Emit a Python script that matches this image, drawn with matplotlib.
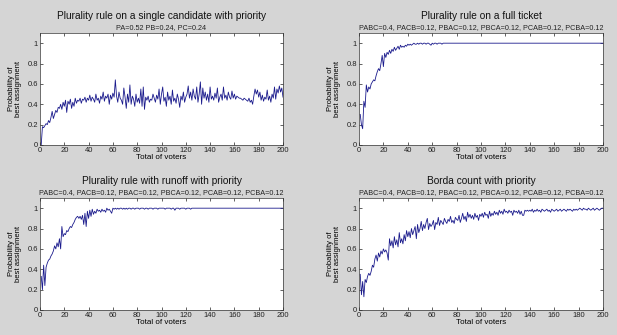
import matplotlib
matplotlib.use("Agg")
import matplotlib.pyplot as plt

plt.rcParams['font.family'] = ['Liberation Sans', 'DejaVu Sans']

voters = list(range(1, 201))

plurality_single = [
    0.00, 0.18, 0.17, 0.19, 0.21, 0.20, 0.24, 0.22, 0.27, 0.33,
    0.26, 0.30, 0.34, 0.32, 0.37, 0.36, 0.40, 0.35, 0.42, 0.38,
    0.44, 0.32, 0.43, 0.40, 0.45, 0.36, 0.42, 0.38, 0.46, 0.41,
    0.44, 0.43, 0.46, 0.41, 0.45, 0.44, 0.47, 0.42, 0.46, 0.44,
    0.49, 0.43, 0.47, 0.45, 0.42, 0.50, 0.44, 0.46, 0.41, 0.48,
    0.45, 0.52, 0.43, 0.48, 0.46, 0.50, 0.40, 0.49, 0.45, 0.51,
    0.47, 0.64, 0.48, 0.42, 0.52, 0.46, 0.44, 0.40, 0.56, 0.47,
    0.36, 0.50, 0.42, 0.59, 0.40, 0.48, 0.45, 0.38, 0.50, 0.42,
    0.46, 0.41, 0.55, 0.38, 0.57, 0.35, 0.47, 0.44, 0.48, 0.42,
    0.45, 0.44, 0.50, 0.46, 0.42, 0.49, 0.45, 0.55, 0.40, 0.50,
    0.57, 0.43, 0.47, 0.38, 0.52, 0.44, 0.48, 0.40, 0.54, 0.43,
    0.46, 0.41, 0.50, 0.45, 0.37, 0.48, 0.44, 0.52, 0.42, 0.47,
    0.50, 0.58, 0.46, 0.52, 0.44, 0.55, 0.48, 0.45, 0.57, 0.42,
    0.50, 0.62, 0.40, 0.56, 0.46, 0.52, 0.44, 0.50, 0.42, 0.57,
    0.45, 0.48, 0.44, 0.51, 0.46, 0.56, 0.42, 0.47, 0.50, 0.44,
    0.57, 0.46, 0.49, 0.44, 0.52, 0.47, 0.45, 0.53, 0.46, 0.50,
    0.45, 0.48, 0.47, 0.46, 0.46, 0.45, 0.44, 0.46, 0.45, 0.44,
    0.43, 0.46, 0.42, 0.44, 0.40, 0.48, 0.55, 0.50, 0.54, 0.47,
    0.52, 0.44, 0.49, 0.43, 0.47, 0.45, 0.54, 0.44, 0.48, 0.42,
    0.50, 0.46, 0.57, 0.45, 0.55, 0.51, 0.58, 0.52, 0.56, 0.47,
]

plurality_full = [
    0.30, 0.20, 0.16, 0.43, 0.37, 0.59, 0.52, 0.57, 0.55, 0.60,
    0.62, 0.64, 0.63, 0.68, 0.72, 0.75, 0.73, 0.80, 0.88, 0.77,
    0.90, 0.86, 0.91, 0.89, 0.93, 0.90, 0.94, 0.92, 0.96, 0.93,
    0.95, 0.97, 0.94, 0.98, 0.96, 0.97, 0.96, 0.98, 0.97, 0.99,
    0.98, 0.99, 0.98, 0.99, 1.00, 0.99, 0.99, 1.00, 0.99, 1.00,
    1.00, 0.99, 1.00, 1.00, 0.99, 1.00, 1.00, 0.99, 0.98, 1.00,
    0.99, 1.00, 1.00, 0.99, 1.00, 1.00, 1.00, 0.99, 1.00, 1.00,
    1.00, 1.00, 1.00, 1.00, 1.00, 1.00, 1.00, 1.00, 1.00, 1.00,
    1.00, 1.00, 1.00, 1.00, 1.00, 1.00, 1.00, 1.00, 1.00, 1.00,
    1.00, 1.00, 1.00, 1.00, 1.00, 1.00, 1.00, 1.00, 1.00, 1.00,
    1.00, 1.00, 1.00, 1.00, 1.00, 1.00, 1.00, 1.00, 1.00, 1.00,
    1.00, 1.00, 1.00, 1.00, 1.00, 1.00, 1.00, 1.00, 1.00, 1.00,
    1.00, 1.00, 1.00, 1.00, 1.00, 1.00, 1.00, 1.00, 1.00, 1.00,
    1.00, 1.00, 1.00, 1.00, 1.00, 1.00, 1.00, 1.00, 1.00, 1.00,
    1.00, 1.00, 1.00, 1.00, 1.00, 1.00, 1.00, 1.00, 1.00, 1.00,
    1.00, 1.00, 1.00, 1.00, 1.00, 1.00, 1.00, 1.00, 1.00, 1.00,
    1.00, 1.00, 1.00, 1.00, 1.00, 1.00, 1.00, 1.00, 1.00, 1.00,
    1.00, 1.00, 1.00, 1.00, 1.00, 1.00, 1.00, 1.00, 1.00, 1.00,
    1.00, 1.00, 1.00, 1.00, 1.00, 1.00, 1.00, 1.00, 1.00, 1.00,
    1.00, 1.00, 1.00, 1.00, 1.00, 1.00, 1.00, 1.00, 1.00, 1.00,
]

plurality_runoff = [
    0.33, 0.20, 0.44, 0.24, 0.42, 0.46, 0.49, 0.50, 0.53, 0.55,
    0.58, 0.63, 0.60, 0.66, 0.62, 0.70, 0.60, 0.82, 0.72, 0.75,
    0.74, 0.78, 0.77, 0.80, 0.82, 0.81, 0.84, 0.86, 0.89, 0.91,
    0.92, 0.90, 0.92, 0.89, 0.93, 0.84, 0.95, 0.82, 0.97, 0.90,
    0.98, 0.92, 0.99, 0.94, 0.97, 0.95, 0.99, 0.97, 0.98, 0.96,
    0.99, 0.97, 0.98, 0.96, 1.00, 0.98, 0.99, 0.97, 0.95, 1.00,
    0.99, 1.00, 0.99, 1.00, 0.99, 1.00, 1.00, 0.99, 1.00, 0.99,
    1.00, 0.99, 1.00, 1.00, 0.99, 1.00, 1.00, 0.99, 1.00, 1.00,
    1.00, 0.99, 1.00, 1.00, 1.00, 0.99, 1.00, 1.00, 0.99, 1.00,
    1.00, 1.00, 0.99, 1.00, 1.00, 1.00, 0.99, 1.00, 1.00, 1.00,
    1.00, 1.00, 0.99, 1.00, 1.00, 1.00, 1.00, 0.99, 1.00, 1.00,
    0.98, 1.00, 1.00, 1.00, 0.99, 1.00, 1.00, 1.00, 1.00, 0.99,
    1.00, 1.00, 1.00, 0.99, 1.00, 1.00, 1.00, 1.00, 1.00, 1.00,
    1.00, 1.00, 1.00, 1.00, 1.00, 1.00, 1.00, 1.00, 1.00, 1.00,
    1.00, 1.00, 1.00, 1.00, 1.00, 1.00, 1.00, 1.00, 1.00, 1.00,
    1.00, 1.00, 1.00, 1.00, 1.00, 1.00, 1.00, 1.00, 1.00, 1.00,
    1.00, 1.00, 1.00, 1.00, 1.00, 1.00, 1.00, 1.00, 1.00, 1.00,
    1.00, 1.00, 1.00, 1.00, 1.00, 1.00, 1.00, 1.00, 1.00, 1.00,
    1.00, 1.00, 1.00, 1.00, 1.00, 1.00, 1.00, 1.00, 1.00, 1.00,
    1.00, 1.00, 1.00, 1.00, 1.00, 1.00, 1.00, 1.00, 1.00, 1.00,
]

borda_count = [
    0.35, 0.15, 0.28, 0.13, 0.30, 0.27, 0.33, 0.36, 0.34, 0.38,
    0.44, 0.42, 0.50, 0.54, 0.48, 0.56, 0.52, 0.58, 0.55, 0.60,
    0.57, 0.59, 0.56, 0.49, 0.70, 0.63, 0.68, 0.61, 0.72, 0.64,
    0.69, 0.62, 0.76, 0.66, 0.70, 0.65, 0.74, 0.68, 0.78, 0.72,
    0.77, 0.71, 0.80, 0.74, 0.78, 0.82, 0.70, 0.84, 0.76, 0.80,
    0.87, 0.78, 0.84, 0.80, 0.86, 0.90, 0.79, 0.85, 0.82, 0.84,
    0.88, 0.79, 0.86, 0.84, 0.91, 0.83, 0.88, 0.86, 0.84, 0.90,
    0.87, 0.85, 0.89, 0.87, 0.92, 0.86, 0.88, 0.85, 0.91, 0.89,
    0.88, 0.93, 0.86, 0.90, 0.95, 0.89, 0.92, 0.87, 0.96, 0.91,
    0.94, 0.90, 0.93, 0.89, 0.95, 0.91, 0.93, 0.88, 0.94, 0.92,
    0.95, 0.91, 0.96, 0.93, 0.94, 0.90, 0.97, 0.92, 0.95, 0.93,
    0.97, 0.94, 0.96, 0.93, 0.98, 0.95, 0.97, 0.94, 0.99, 0.96,
    0.97, 0.95, 0.98, 0.96, 0.97, 0.93, 0.98, 0.96, 0.97, 0.95,
    0.98, 0.94, 0.97, 0.93, 0.93, 0.98, 0.97, 0.98, 0.97, 0.98,
    0.97, 0.99, 0.96, 0.98, 0.97, 0.99, 0.97, 0.98, 0.96, 0.99,
    0.98, 0.97, 0.98, 0.99, 0.97, 0.98, 0.96, 0.99, 0.98, 0.97,
    0.98, 0.99, 0.97, 0.98, 0.99, 0.97, 0.98, 0.99, 0.98, 0.97,
    0.99, 0.98, 0.99, 0.98, 0.97, 0.99, 0.98, 0.99, 0.98, 0.99,
    1.00, 0.99, 0.98, 1.00, 0.99, 0.99, 0.98, 1.00, 0.99, 0.98,
    0.99, 1.00, 0.98, 0.99, 1.00, 0.99, 0.98, 0.99, 1.00, 1.00,
]

titles = [
    "Plurality rule on a single candidate with priority",
    "Plurality rule on a full ticket",
    "Plurality rule with runoff with priority",
    "Borda count with priority",
]
ticket_probs = "PABC=0.4, PACB=0.12, PBAC=0.12, PBCA=0.12, PCAB=0.12, PCBA=0.12"
subtitles = ["PA=0.52 PB=0.24, PC=0.24", ticket_probs, ticket_probs, ticket_probs]
series = [plurality_single, plurality_full, plurality_runoff, borda_count]

x_ticks = list(range(0, 201, 20))
y_ticks = [0, 0.2, 0.4, 0.6, 0.8, 1]
y_ticklabels = ["0", "0.2", "0.4", "0.6", "0.8", "1"]

W, H = 617, 335
bg = "#d5d5d5"
fig = plt.figure(figsize=(W / 100, H / 100), dpi=100, facecolor=bg)

# axes boxes in pixels: (left, top, right, bottom)
boxes = [(40, 33, 283, 145), (359, 33, 603, 145),
         (40, 198, 283, 310), (359, 198, 603, 310)]

for (l, t, r, b), title, sub, ys in zip(boxes, titles, subtitles, series):
    ax = fig.add_axes([l / W, 1 - b / H, (r - l) / W, (b - t) / H])
    ax.plot(voters, ys, color="#1a1a8c", lw=0.6)
    ax.set_xlim(0, 200)
    ax.set_ylim(0, 1.1)
    ax.set_xticks(x_ticks)
    ax.set_yticks(y_ticks)
    ax.set_yticklabels(y_ticklabels)
    ax.tick_params(direction="in", length=2.5, width=0.5, labelsize=5.5,
                   top=True, right=True, pad=1.5, colors="#222222")
    for sp in ax.spines.values():
        sp.set_linewidth(0.5)
        sp.set_color("#333333")
    ax.set_xlabel("Total of voters", fontsize=5.8, labelpad=0)
    ax.set_ylabel("Probability of\nbest assignment", fontsize=5.5,
                  labelpad=4, linespacing=1.0)
    cx = (l + r) / 2 / W
    fig.text(cx, 1 - (t - 17) / H, title, ha="center", va="center",
             fontsize=7.3, color="#111111")
    fig.text(cx, 1 - (t - 5.5) / H, sub, ha="center", va="center",
             fontsize=5.2, color="#222222")

fig.savefig("out.png", dpi=100, facecolor=bg)
